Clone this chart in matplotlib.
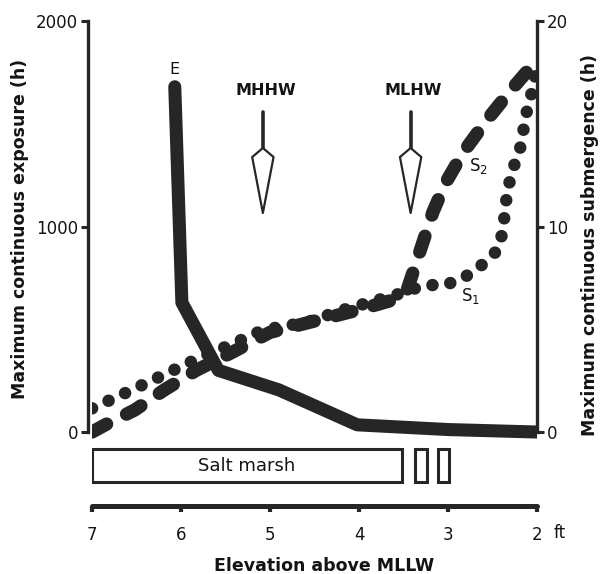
import matplotlib
matplotlib.use('Agg')
import matplotlib.pyplot as plt
from matplotlib.patches import Polygon, Rectangle

plt.rcParams['font.family'] = ['DejaVu Sans']
plt.rcParams['lines.scale_dashes'] = False

# ---------------- data ----------------
elev_E = [6.07, 5.99, 5.58, 4.90, 4.02, 3.00, 2.00]
exposure_E = [1680, 630, 300, 205, 35, 12, 0]

elev_S1 = [7.0, 6.6, 6.2, 5.8, 5.45, 5.08, 4.58, 4.18, 3.79, 3.6, 3.4, 3.24, 3.03,
           2.81, 2.62, 2.44, 2.38, 2.36, 2.33, 2.27, 2.19, 2.11, 2.06, 2.0]
sub_S1 = [1.15, 1.95, 2.77, 3.6, 4.23, 4.96, 5.35, 5.94, 6.42, 6.65, 6.95, 7.15, 7.15,
          7.54, 8.13, 8.86, 9.83, 10.8, 11.8, 12.8, 13.8, 15.7, 16.5, 17.8]

elev_S2 = [7.0, 6.83, 6.52, 6.19, 5.83, 5.42, 5.0, 4.5, 4.0, 3.6, 3.46, 3.31, 3.17,
           3.03, 2.83, 2.56, 2.28, 2.04]
sub_S2 = [0.0, 0.4, 1.07, 2.04, 3.0, 3.89, 4.85, 5.4, 5.95, 6.45, 6.9, 8.86, 10.7,
          12.1, 13.6, 15.2, 16.7, 17.9]

x_ticks = [7, 6, 5, 4, 3, 2]
left_ticks = [0, 1000, 2000]
right_ticks = [0, 10, 20]

tide_levels = ['MHHW', 'MLHW']
tide_elev = [5.08, 3.42]

marsh_start = [7.0, 3.37, 3.11]
marsh_end = [3.52, 3.24, 2.99]
marsh_text = ['Salt marsh', '', '']

# ---------------- figure ----------------
W, H = 604, 574
fig = plt.figure(figsize=(W / 100, H / 100), dpi=100)
ax = fig.add_axes([92 / W, 1 - 506 / H, (537 - 92) / W, (506 - 21) / H])
ax2 = ax.twinx()

ink = '#262626'
txt = '#141414'

ax.set_xlim(7, 2)
ax.set_ylim(-360, 2000)
ax2.set_ylim(-3.6, 20)

# E curve
ax.plot(elev_E, exposure_E, color=ink, lw=9.4, solid_capstyle='round',
        solid_joinstyle='round', zorder=3)

# S curves on right axis
ax2.plot(elev_S2, sub_S2, color=ink, lw=9.6, linestyle=(0, (12, 16)),
         dash_capstyle='round', zorder=3)
ax2.plot(elev_S1, sub_S1, color=ink, lw=9.0, linestyle=(0, (0.1, 13)),
         dash_capstyle='round', zorder=3)

# curve labels
ax.text(6.07, 1766, 'E', ha='center', va='center', fontsize=11.5, color=txt)
ax2.text(2.66, 12.95, r'S$_2$', ha='center', va='center', fontsize=12, color=txt)
ax2.text(2.75, 6.6, r'S$_1$', ha='center', va='center', fontsize=12, color=txt)

# tide level arrows
for name, xe in zip(tide_levels, tide_elev):
    ax.text(xe - 0.03, 1664, name, ha='center', va='center', fontsize=11.5,
            fontweight='bold', color=txt)
    ax.plot([xe, xe], [1555, 1382], color=ink, lw=2.6, solid_capstyle='round', zorder=4)
    kite = Polygon([[xe, 1382], [xe - 0.12, 1338], [xe, 1066], [xe + 0.12, 1338]],
                   closed=True, facecolor='white', edgecolor=ink, lw=1.6, zorder=4,
                   joinstyle='round')
    ax.add_patch(kite)

# salt marsh bar
for x0, x1, t in zip(marsh_start, marsh_end, marsh_text):
    r = Rectangle((x1, -243), x0 - x1, 160, facecolor='white', edgecolor=ink,
                  lw=2.2, zorder=2)
    ax.add_patch(r)
    if t:
        ax.text((x0 + x1) / 2, -163, t, ha='center', va='center', fontsize=13,
                color=txt)

# spines
for s in ['top', 'right']:
    ax.spines[s].set_visible(False)
for s in ['top', 'left', 'bottom']:
    ax2.spines[s].set_visible(False)

ax.spines['left'].set_bounds(0, 2000)
ax.spines['left'].set_position(('outward', 3))
ax.spines['left'].set_linewidth(2.4)
ax.spines['left'].set_color(ink)
ax.spines['bottom'].set_bounds(7, 2)
ax.spines['bottom'].set_linewidth(3.6)
ax.spines['bottom'].set_color(ink)
ax.spines['bottom'].set_capstyle('round')
ax2.spines['right'].set_bounds(0, 20)
ax2.spines['right'].set_linewidth(2.4)
ax2.spines['right'].set_color(ink)

ax.set_xticks(x_ticks)
ax.set_xticklabels([str(v) for v in x_ticks])
ax.set_yticks(left_ticks)
ax.set_yticklabels([str(v) for v in left_ticks])
ax2.set_yticks(right_ticks)
ax2.set_yticklabels([str(v) for v in right_ticks])

ax.tick_params(axis='x', direction='out', length=4, width=3, color=ink,
               labelsize=12, pad=10.5, labelcolor=txt)
ax.tick_params(axis='y', direction='out', length=5, width=2.2, color=ink,
               labelsize=12, pad=2, labelcolor=txt)
ax2.tick_params(axis='y', direction='out', length=5, width=2.2, color=ink,
                labelsize=12, pad=2, labelcolor=txt)

ax.text(1.75, -492, 'ft', ha='center', va='center', fontsize=12, color=txt,
        clip_on=False)

fig.text(20 / W, 1 - 229 / H, 'Maximum continuous exposure (h)', rotation=90,
         ha='center', va='center', fontsize=12.5, fontweight='bold', color=txt)
fig.text(590 / W, 1 - 245 / H, 'Maximum continuous submergence (h)', rotation=90,
         ha='center', va='center', fontsize=12.5, fontweight='bold', color=txt)
fig.text(324 / W, 1 - 566 / H, 'Elevation above MLLW', ha='center', va='center',
         fontsize=12.5, fontweight='bold', color=txt)

fig.savefig('out.png', dpi=100)
